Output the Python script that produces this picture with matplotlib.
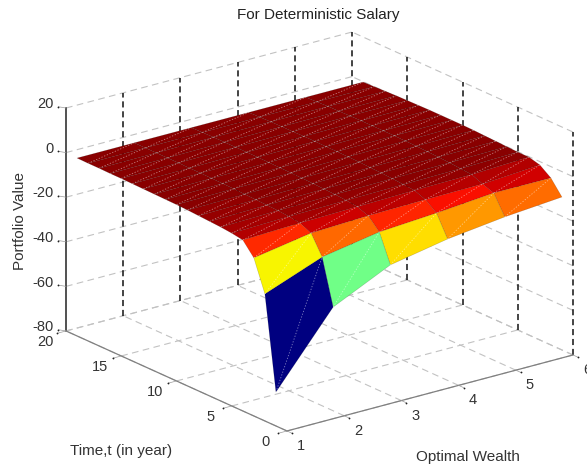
import numpy as np
import matplotlib
matplotlib.use('Agg')
import matplotlib.pyplot as plt
from mpl_toolkits.mplot3d import proj3d

plt.rcParams['font.family'] = ['Liberation Sans', 'DejaVu Sans']

wealth = [1, 2, 3, 4, 5, 6]
years = [1, 2, 3, 4, 5, 6, 7, 8, 9, 10, 11, 12, 13, 14, 15, 16, 17, 18, 19]
# one row per year, one column per wealth value
portfolio = [
    [-64.8, -33.5, -21.4, -16.6, -13.5, -11.4],
    [-23.0, -13.3, -8.9, -7.2, -5.0, -5.1],
    [-9.1, -4.8, -3.8, -3.4, -3.2, -1.5],
    [-3.3, -2.5, -2.0, -1.5, -1.2, -0.2],
    [-2.5, -1.8, -1.4, -1.1, -0.8, -0.2],
    [-2.0, -1.4, -1.0, -0.7, -0.4, 0.0],
    [-1.7, -1.2, -0.8, -0.4, -0.1, 0.2],
    [-1.4, -1.0, -0.6, -0.2, 0.1, 0.4],
    [-1.1, -0.8, -0.4, 0.0, 0.3, 0.6],
    [-0.9, -0.6, -0.3, 0.1, 0.4, 0.7],
    [-0.8, -0.5, -0.2, 0.2, 0.5, 0.7],
    [-0.7, -0.4, -0.1, 0.2, 0.5, 0.7],
    [-0.6, -0.3, 0.0, 0.3, 0.5, 0.7],
    [-0.5, -0.3, 0.0, 0.3, 0.5, 0.6],
    [-0.4, -0.2, 0.0, 0.2, 0.4, 0.5],
    [-0.4, -0.2, 0.0, 0.2, 0.3, 0.4],
    [-0.3, -0.2, 0.0, 0.1, 0.2, 0.2],
    [-0.3, -0.2, -0.1, 0.0, 0.0, 0.0],
    [-0.2, -0.2, -0.2, -0.2, -0.2, -0.2],
]
x_ticks = [1, 2, 3, 4, 5, 6]
t_ticks = [0, 5, 10, 15, 20]
z_ticks = [-80, -60, -40, -20, 0, 20]
x_labels = ['1', '2', '3', '4', '5', '6']
t_labels = ['0', '5', '10', '15', '20']
z_labels = ['-80', '-60', '-40', '-20', '0', '20']

W, H = 587, 471
S = 547.7  # axes side in pixels, gives 1 box unit = 1 pixel
cx, cy = 319.5, 239.5  # box centre in pixels from bottom left

fig = plt.figure(figsize=(W / 100, H / 100), dpi=100)
ax = fig.add_axes([(cx - .5135 * S) / W, (cy - .5135 * S) / H, S / W, S / H],
                  projection='3d', proj_type='ortho')
ax.set_box_aspect((360.3, 363.3, 237.7))
ax.view_init(elev=20.29, azim=232.54)
ax.set_xlim(1, 6, view_margin=0)
ax.set_ylim(0, 20, view_margin=0)
ax.set_zlim(-80, 20, view_margin=0)
ax.set_xticks([])
ax.set_yticks([])
ax.set_zticks([])
ax.set_axis_off()
ax.computed_zorder = False

xmin, xmax = x_ticks[0], x_ticks[-1]
tmin, tmax = t_ticks[0], t_ticks[-1]
zmin, zmax = z_ticks[0], z_ticks[-1]

grid = dict(color='#c2c2c2', lw=0.8, ls=(0, (6, 4)), zorder=1)
vert = dict(color='#111111', lw=1.1, ls=(0, (4, 2.5)), zorder=2)
tick = dict(color='#9a9a9a', lw=0.5, zorder=3)
dot = dict(color='#222222', marker='o', ms=1.3, mew=0, ls='none', zorder=3)


def put_label(x, t, z, s, ha='center'):
    # plain 2D text at the projected place of a 3D point
    px, py, _ = proj3d.proj_transform(x, t, z, ax.get_proj())
    ax.text2D(px, py, s, transform=ax.transData, ha=ha, va='center', fontsize=10.5, color='#333333')


# floor
for x in x_ticks:
    ax.plot([x, x], [tmin, tmax], [zmin, zmin], **grid)
for t in t_ticks:
    ax.plot([xmin, xmax], [t, t], [zmin, zmin], **grid)
# back walls
for z in z_ticks:
    ax.plot([xmin, xmax], [tmax, tmax], [z, z], **grid)
    ax.plot([xmax, xmax], [tmin, tmax], [z, z], **grid)
for x in x_ticks[1:]:
    ax.plot([x, x], [tmax, tmax], [zmin, zmax], **vert)
for t in t_ticks[:-1]:
    ax.plot([xmax, xmax], [t, t], [zmin, zmax], **vert)

# axis lines
ax.plot([xmin, xmin], [tmax, tmax], [zmin, zmax], color='#222222', lw=1.1, zorder=3)
ax.plot([xmin, xmin], [tmin, tmax], [zmin, zmin], color='#808080', lw=0.9, zorder=3)
ax.plot([xmin, xmax], [tmin, tmin], [zmin, zmin], color='#808080', lw=0.9, zorder=3)

# ticks and labels
for x, s in zip(x_ticks, x_labels):
    ax.plot([x, x], [tmin, tmin - .45], [zmin, zmin], **tick)
    ax.plot([x], [tmin - .45], [zmin], **dot)
    put_label(x, -1.27, -83.9, s)
for t, s in zip(t_ticks, t_labels):
    ax.plot([xmin, xmin - .15], [t, t], [zmin, zmin], **tick)
    ax.plot([xmin - .15], [t], [zmin], **dot)
    put_label(.633, t, -82.4, s)
for z, s in zip(z_ticks, z_labels):
    ax.plot([xmin, xmin], [tmax, tmax + .7], [z, z - 1], **tick)
    ax.plot([xmin], [tmax + .7], [z - 1], **dot)
    put_label(xmin, tmax + 1.15, z - .9, s, ha='right')

# surface, each face takes the colour of its low corner
X, T = np.meshgrid(wealth, years)
Z = np.array(portfolio)
colors = plt.cm.jet(plt.Normalize(Z.min(), -1.0, clip=True)(Z) * .99)
ax.plot_surface(X, T, Z, facecolors=colors, rstride=1, cstride=1, shade=False,
                edgecolor=(0, 0, 0, 0.22), linewidth=0.4, antialiased=True, zorder=5)

# the pale diagonals of the split faces
for i in range(len(years) - 1):
    for j in range(len(wealth) - 1):
        ax.plot([wealth[j], wealth[j + 1]], [years[i], years[i + 1]], [Z[i, j], Z[i + 1, j + 1]],
                color='white', lw=0.6, ls=(0, (1.5, 2)), alpha=0.5, zorder=6)

side = dict(ha='center', va='center', fontsize=11, color='#333333')
fig.text(318.5 / W, 1 - 15 / H, 'For Deterministic Salary', ha='center', va='center',
         fontsize=11, color='#222222')
fig.text(20 / W, 1 - 221 / H, 'Portfolio Value', rotation=90, **side)
fig.text(121 / W, 1 - 451 / H, 'Time,t (in year)', **side)
fig.text(467.5 / W, 1 - 457 / H, 'Optimal Wealth', **side)

fig.savefig('out.png', dpi=100)
